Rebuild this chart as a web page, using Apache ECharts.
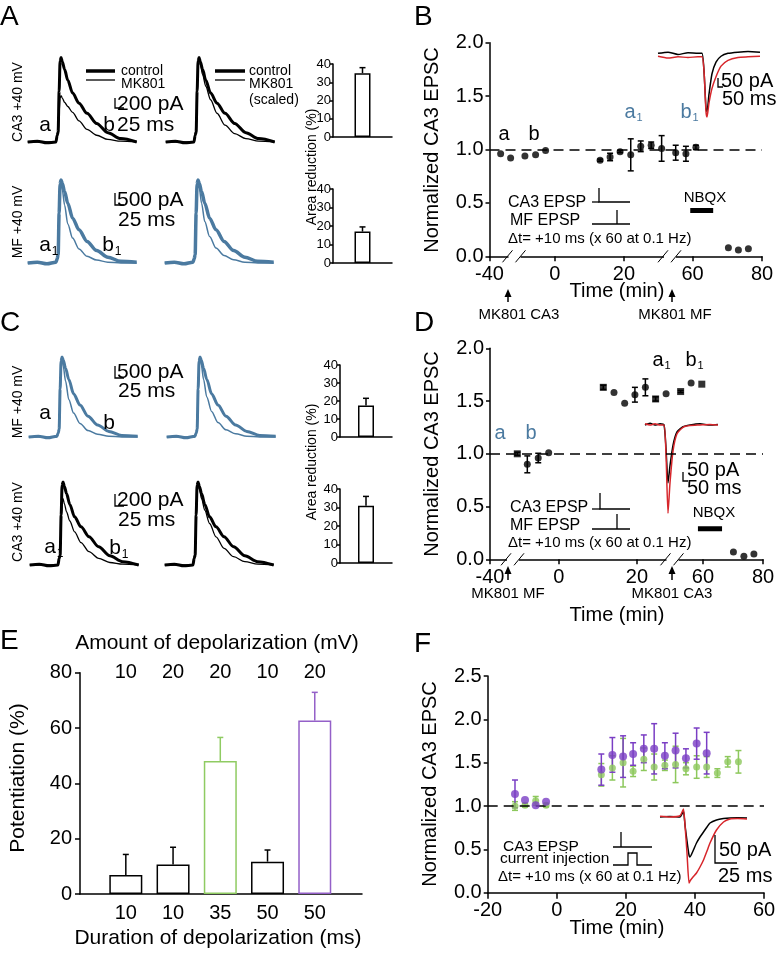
<!DOCTYPE html>
<html>
<head>
<meta charset="utf-8">
<script src="https://cdn.jsdelivr.net/npm/echarts@6/dist/echarts.min.js"></script>
<style>
  html, body { margin: 0; padding: 0; background: #fff; }
  #c { width: 780px; height: 953px; }
</style>
</head>
<body>
<div id="c"></div>
<script>
// ---- EPSC traces (panels A, C), normalized to control peak ----
const traceT = [0, 30, 60, 88, 92, 95, 98, 101, 104, 108, 115, 125, 140, 160, 185, 215, 250, 290, 340]
const ca3Ctrl = [0, 0.01, -0.01, 0, 0.08, 0.12, 0.6, 0.96, 1.0, 0.95, 0.86, 0.73, 0.58, 0.46, 0.34, 0.22, 0.11, 0.04, 0]
const ca3Mk = [0, 0, 0, 0, 0.06, 0.1, 0.35, 0.52, 0.55, 0.52, 0.47, 0.42, 0.35, 0.25, 0.15, 0.08, 0.03, 0.01, 0]
const ca3MkScaled = [0, 0, 0, 0, 0.1, 0.15, 0.64, 0.95, 1.0, 0.92, 0.8, 0.66, 0.5, 0.34, 0.2, 0.1, 0.04, 0.01, 0]
const ca3MkC = [0, 0, 0, 0, 0.08, 0.12, 0.5, 0.76, 0.8, 0.74, 0.64, 0.53, 0.4, 0.27, 0.16, 0.08, 0.03, 0.01, 0]
const mfCtrl = [0, 0.01, -0.01, 0.01, 0.05, 0.1, 0.6, 0.95, 1.0, 0.96, 0.86, 0.72, 0.54, 0.4, 0.26, 0.15, 0.07, 0.02, 0.01]
const mfMk = [0, 0, 0, 0, 0.04, 0.08, 0.55, 0.9, 0.97, 0.88, 0.7, 0.47, 0.3, 0.17, 0.08, 0.035, 0.01, 0, 0]
const mfMkScaled = [0, 0, 0, 0, 0.04, 0.08, 0.57, 0.93, 1.0, 0.9, 0.72, 0.5, 0.32, 0.18, 0.09, 0.04, 0.01, 0, 0]

// ---- area reduction bars (%) ----
const aBarVals = [35, 17]
const aBarErr = [3, 2.5]
const cBarVals = [17.5, 31]
const cBarErr = [4, 5]

// ---- panel B ----
const bTickPos = [-40, -11.2, 19.2, 49.4, 80]
const bTickText = ['-40', '0', '20', '60', '80']
const bX = [-35.1, -30.7, -24.4, -19.7, -15.3, 8.7, 13.1, 17.5, 22.2, 26.6, 31.2, 35.8, 42.0, 46.5, 50.9, 65.2, 69.6, 74.0]
const bY = [0.96, 0.92, 0.94, 0.95, 0.99, 0.90, 0.93, 0.98, 0.95, 1.03, 1.04, 1.01, 0.97, 0.96, 1.02, 0.08, 0.06, 0.07]
const bErr = [0, 0, 0, 0, 0, 0.01, 0.035, 0.01, 0.15, 0.05, 0.03, 0.12, 0.07, 0.07, 0.02, 0, 0, 0]
const bNbqx = [48.4, 58.5]
const bInsetT = [0, 20, 40, 60, 80, 88, 92, 96, 98, 102, 108, 116, 126, 140, 160, 180, 204]
const bInsetBlack = [0, 0.02, -0.02, 0.01, 0, 0, -0.3, -0.95, -1.0, -0.7, -0.35, -0.15, -0.05, 0, 0.02, 0.03, 0.02]
const bInsetRed = [-0.05, -0.08, -0.06, -0.07, -0.06, -0.06, -0.3, -1.0, -1.09, -0.85, -0.6, -0.4, -0.22, -0.12, -0.07, -0.06, -0.05]

// ---- panel D ----
const dTickPos = [-40, -9.7, 24.6, 53.6, 80]
const dTickText = ['-40', '0', '20', '60', '80']
const dX = [-28.0, -23.6, -18.8, -14.2, 9.8, 14.5, 19.2, 23.7, 28.3, 32.8, 37.4, 43.8, 48.4, 53.1, 67.0, 71.6, 76.0]
const dY = [1.0, 0.90, 0.96, 1.01, 1.63, 1.58, 1.48, 1.56, 1.63, 1.52, 1.57, 1.59, 1.67, 1.66, 0.07, 0.03, 0.05]
const dErr = [0.015, 0.08, 0.045, 0, 0.02, 0, 0, 0.07, 0.08, 0.02, 0, 0.01, 0, 0, 0, 0, 0]
const dMarker = ['rect', 'circle', 'circle', 'circle', 'rect', 'circle', 'circle', 'circle', 'circle', 'rect', 'circle', 'rect', 'circle', 'rect', 'circle', 'circle', 'circle']
const dNbqx = [51.4, 62]
const dInsetT = [0, 10, 20, 30, 38, 42, 46, 50, 56, 64, 76, 90, 110, 130, 146]
const dInsetBlack = [0, 0.03, 0, 0.02, 0, -0.4, -1.0, -0.7, -0.35, -0.12, -0.03, 0, 0.02, 0, 0.01]
const dInsetRed = [0.02, 0, 0.02, 0, 0, -0.5, -1.52, -1.0, -0.45, -0.15, -0.04, -0.01, 0, 0.01, 0]

// ---- panel E ----
const eSlot = [1, 2, 3, 4, 5]
const eAmp = ['10', '20', '20', '10', '20']
const eDur = ['10', '10', '35', '50', '50']
const eVals = [6.9, 10.7, 48.1, 11.7, 62.7]
const eErr = [7.4, 6.2, 8.5, 4.2, 10.2]

// ---- panel F ----
const fX = [-12.1, -9.2, -6.1, -3.1, 12.9, 16.1, 19.2, 22.1, 25.2, 28.2, 31.3, 34.4, 37.4, 40.5, 43.4]
const fPurple = [1.14, 1.07, 1.01, 1.05, 1.42, 1.59, 1.57, 1.6, 1.66, 1.66, 1.58, 1.64, 1.55, 1.72, 1.61]
const fPurpleErr = [0.16, 0, 0, 0, 0.18, 0.2, 0.24, 0.13, 0.16, 0.29, 0.15, 0.2, 0.11, 0.18, 0.24]
const fGreenX = [-12.1, -9.2, -6.1, -3.1, 12.9, 16.1, 19.2, 22.1, 25.2, 28.2, 31.3, 34.4, 37.4, 40.5, 43.4, 46.5, 49.5, 52.6]
const fGreen = [1.0, 1.01, 1.06, 1.01, 1.36, 1.44, 1.5, 1.4, 1.54, 1.45, 1.47, 1.48, 1.43, 1.45, 1.45, 1.38, 1.51, 1.51]
const fGreenErr = [0.05, 0.02, 0.05, 0.02, 0.13, 0.14, 0.28, 0.06, 0.13, 0.15, 0.06, 0.21, 0.07, 0.13, 0.12, 0.05, 0.06, 0.13]
const fInsetT = [0, 20, 40, 45, 47, 50, 54, 58, 60, 66, 73, 80, 87, 94, 100, 113, 127, 140, 155, 174]
const fInsetBlack = [0, 0.01, 0, 0.1, 0.15, -0.2, -0.6, -0.95, -1.0, -0.85, -0.65, -0.5, -0.375, -0.25, -0.15, -0.075, -0.04, -0.025, -0.02, -0.025]
const fInsetRed = [0.02, 0, 0.03, 0.15, 0.2, -0.2, -0.9, -1.65, -1.6, -1.5, -1.4, -1.25, -1.075, -0.85, -0.65, -0.325, -0.125, -0.05, -0.04, -0.05]

const FONT = '"Liberation Sans", Arial, sans-serif'
const BLUE = '#4b7aa0'
const RED = '#d7262b'
const PURPLE = '#7a3ec4'
const GREEN = '#8dc85c'
const eColors = ['#000', '#000', '#8fcb62', '#000', '#9460c8']

const grids = []
const xAxes = []
const yAxes = []
const series = []
const graphics = []

const axLine = { show: true, onZero: false, lineStyle: { color: '#000', width: 1.5 } }
const tick = (len) => ({ show: true, length: len, lineStyle: { color: '#000', width: 1.5 } })

// returns { g, x, y } indices for grid and its axes
function addGrid(rect, xa, ya) {
  const g = grids.length
  grids.push(Object.assign({ show: false, containLabel: false }, rect))
  const x = xAxes.length
  xAxes.push(Object.assign({ gridIndex: g, splitLine: { show: false } }, xa))
  const y = yAxes.length
  yAxes.push(Object.assign({ gridIndex: g, splitLine: { show: false } }, ya))
  return { g, x, y }
}

function on(ax, s) {
  return Object.assign({ xAxisIndex: ax.x, yAxisIndex: ax.y }, s)
}

function pairs(xs, ys) {
  return xs.map((x, k) => [x, ys[k]])
}

function traceGrid(left, top, h, lines) {
  const ax = addGrid({ left, top, width: 109, height: h },
    { type: 'value', show: false, min: 0, max: 340 },
    { type: 'value', show: false, min: 0, max: 1 })
  lines.forEach(l => {
    series.push(on(ax, {
      type: 'line', data: pairs(traceT, l[0]),
      symbol: 'none', clip: false, smooth: 0.3, smoothMonotone: 'x',
      lineStyle: { color: l[1], width: l[2] }
    }))
  })
}

function insetGrid(rect, tmax, ymin, ymax, t, black, red) {
  const ax = addGrid(rect,
    { type: 'value', show: false, min: 0, max: tmax },
    { type: 'value', show: false, min: ymin, max: ymax })
  series.push(on(ax, { type: 'line', data: pairs(t, black), symbol: 'none', clip: false,
    smooth: 0.2, lineStyle: { color: '#000', width: 1.5 } }))
  series.push(on(ax, { type: 'line', data: pairs(t, red), symbol: 'none', clip: false,
    smooth: 0.2, lineStyle: { color: RED, width: 1.5 } }))
}

// error bars drawn through the axes
function errSeries(ax, xs, ys, es, color, cap, up) {
  return on(ax, {
    type: 'custom', silent: true, z: 3,
    data: xs.map((x, i) => [x, ys[i], es[i]]),
    renderItem: (p, api) => {
      const x = api.value(0), y = api.value(1), e = api.value(2)
      if (!e) return { type: 'group', children: [] }
      const c = Array.isArray(color) ? color[p.dataIndex] : color
      const hi = api.coord([x, y + e])
      const lo = api.coord([x, up ? y : y - e])
      const st = { stroke: c, lineWidth: 1.5 }
      const kids = [
        { type: 'line', shape: { x1: hi[0], y1: hi[1], x2: lo[0], y2: lo[1] }, style: st },
        { type: 'line', shape: { x1: hi[0] - cap, y1: hi[1], x2: hi[0] + cap, y2: hi[1] }, style: st }
      ]
      if (!up) kids.push({ type: 'line', shape: { x1: lo[0] - cap, y1: lo[1], x2: lo[0] + cap, y2: lo[1] }, style: st })
      return { type: 'group', children: kids }
    }
  })
}

const dashed = {
  silent: true, symbol: ['none', 'none'], label: { show: false },
  lineStyle: { color: '#000', width: 1.5, type: [10, 6] },
  data: [{ yAxis: 1 }]
}

function smallBar(rect, val, err) {
  const ax = addGrid(rect,
    { type: 'category', data: [''], axisLine: axLine, axisTick: { show: false }, axisLabel: { show: false } },
    { type: 'value', min: 0, max: 40, interval: 10, axisLine: axLine, axisTick: tick(3),
      axisLabel: { fontSize: 13, fontFamily: FONT, color: '#000', margin: 2 } })
  series.push(on(ax, { type: 'bar', data: [val], barWidth: 16,
    itemStyle: { color: '#fff', borderColor: '#000', borderWidth: 1.5 } }))
  series.push(errSeries(ax, [0], [val], [err], '#000', 3, true))
}

function mainY(max) {
  return { type: 'value', min: 0, max, interval: 0.5, axisLine: axLine, axisTick: tick(4),
    axisLabel: { formatter: v => v.toFixed(1), fontSize: 20, fontFamily: FONT, color: '#000', margin: 6 } }
}

function brokenX(pos, text) {
  return { type: 'value', min: -40, max: 80, axisLine: axLine,
    axisTick: Object.assign(tick(5), { customValues: pos }),
    axisLabel: { customValues: pos, formatter: v => text[pos.indexOf(v)], fontSize: 20, fontFamily: FONT, color: '#000', margin: 8 } }
}

// ---- graphic helpers ----
function txt(x, y, s, size, opt) {
  opt = opt || {}
  const al = opt.align || 'center'
  graphics.push({ type: 'text', x, y, rotation: opt.rot || 0, z: 100, silent: true,
    style: { text: s, font: size + 'px ' + FONT, fill: opt.color || '#000',
      align: al, verticalAlign: 'middle', textAlign: al, textVerticalAlign: 'middle' } })
}
function sub(x, y, a, n, size, color) {
  txt(x, y, a, size, { color })
  txt(x + size * 0.32, y + size * 0.3, n, Math.round(size * 0.55), { color, align: 'left' })
}
function poly(points, w, color) {
  graphics.push({ type: 'polyline', z: 100, silent: true, shape: { points },
    style: { stroke: color || '#000', lineWidth: w || 1.5, fill: null } })
}
function arrowUp(x, yTop, yBot) {
  poly([[x, yBot], [x, yTop + 5]], 1.5)
  graphics.push({ type: 'polygon', z: 100, silent: true,
    shape: { points: [[x, yTop], [x - 3.5, yTop + 8], [x + 3.5, yTop + 8]] }, style: { fill: '#000' } })
}
function axisBreak(cx, y) {
  graphics.push({ type: 'rect', z: 99, silent: true, shape: { x: cx - 6, y: y - 2.5, width: 12, height: 5 }, style: { fill: '#fff' } })
  poly([[cx - 12, y + 6], [cx - 2, y - 6]], 1)
  poly([[cx + 1, y + 6], [cx + 11, y - 6]], 1)
}
function scaleL(x, yTop, yBot, xEnd) {
  poly([[x, yTop], [x, yBot], [xEnd, yBot]], 1.3)
}

// ================= Panel A =================
traceGrid(27.7, 57.5, 84.5, [[ca3Mk, '#000', 1.3], [ca3Ctrl, '#000', 3]])
traceGrid(165.7, 57.5, 84.5, [[ca3MkScaled, '#000', 1.3], [ca3Ctrl, '#000', 3]])
traceGrid(27.7, 180, 83, [[mfMk, BLUE, 1.5], [mfCtrl, BLUE, 3.5]])
traceGrid(164.7, 180, 83, [[mfMkScaled, BLUE, 1.5], [mfCtrl, BLUE, 3.5]])
smallBar({ left: 333, top: 64, width: 59, height: 73 }, aBarVals[0], aBarErr[0])
smallBar({ left: 333, top: 189, width: 59, height: 74 }, aBarVals[1], aBarErr[1])

txt(0, 17, 'A', 28, { align: 'left' })
txt(18, 102, 'CA3 +40 mV', 14, { rot: Math.PI / 2 })
txt(18, 222, 'MF +40 mV', 14, { rot: Math.PI / 2 })
poly([[86, 71], [115, 71]], 3.5)
poly([[86, 80], [115, 80]], 1.3)
txt(121, 71, 'control', 14, { align: 'left' })
txt(121, 84, 'MK801', 14, { align: 'left' })
poly([[215, 71], [245, 71]], 3.5)
poly([[215, 80], [245, 80]], 1.3)
txt(249, 71, 'control', 14, { align: 'left' })
txt(249, 84, 'MK801', 14, { align: 'left' })
txt(249, 100, '(scaled)', 14, { align: 'left' })
scaleL(115, 98, 108, 124)
txt(117, 104, '200 pA', 21, { align: 'left' })
txt(117, 125, '25 ms', 21, { align: 'left' })
txt(45, 125, 'a', 21)
txt(109, 125, 'b', 21)
scaleL(115, 193, 205, 124)
txt(117, 200, '500 pA', 21, { align: 'left' })
txt(118, 220, '25 ms', 21, { align: 'left' })
sub(45, 245, 'a', '1', 21)
sub(108, 245, 'b', '1', 21)
txt(312, 167, 'Area reduction (%)', 14, { rot: Math.PI / 2 })

// ================= Panel C =================
traceGrid(28.7, 357, 80, [[mfMk, BLUE, 1.5], [mfCtrl, BLUE, 3]])
traceGrid(166.7, 357, 80, [[mfMkScaled, BLUE, 1.5], [mfCtrl, BLUE, 3]])
traceGrid(29.7, 482, 83, [[ca3MkC, '#000', 1.3], [ca3Ctrl, '#000', 3]])
traceGrid(164.7, 482, 83, [[ca3MkScaled, '#000', 1.3], [ca3Ctrl, '#000', 3]])
smallBar({ left: 340, top: 365, width: 52, height: 72 }, cBarVals[0], cBarErr[0])
smallBar({ left: 340, top: 489, width: 52, height: 74 }, cBarVals[1], cBarErr[1])

txt(0, 323, 'C', 28, { align: 'left' })
txt(18, 402, 'MF +40 mV', 14, { rot: Math.PI / 2 })
txt(18, 522, 'CA3 +40 mV', 14, { rot: Math.PI / 2 })
txt(45, 413, 'a', 21)
txt(109, 423, 'b', 21)
scaleL(115, 366, 378, 124)
txt(117, 372, '500 pA', 21, { align: 'left' })
txt(118, 391, '25 ms', 21, { align: 'left' })
sub(50, 547, 'a', '1', 21)
sub(115, 548, 'b', '1', 21)
scaleL(115, 494, 506, 124)
txt(117, 500, '200 pA', 21, { align: 'left' })
txt(118, 520, '25 ms', 21, { align: 'left' })
txt(312, 462, 'Area reduction (%)', 14, { rot: Math.PI / 2 })

// ================= Panel B =================
const axB = addGrid({ left: 489.5, top: 42.7, width: 272.5, height: 213.6 }, brokenX(bTickPos, bTickText), mainY(2.0))
series.push(on(axB, { type: 'scatter', data: pairs(bX, bY), symbolSize: 7,
  itemStyle: { color: '#000' }, z: 4, markLine: dashed }))
series.push(errSeries(axB, bX, bY, bErr, '#000', 3))
series.push(on(axB, { type: 'line', data: bNbqx.map(x => [x, 0.43]), symbol: 'none',
  lineStyle: { color: '#000', width: 5 } }))
insetGrid({ left: 658, top: 47.5, width: 102, height: 70 }, 204, -1.1, 0.1, bInsetT, bInsetBlack, bInsetRed)

txt(414, 17, 'B', 28, { align: 'left' })
txt(432, 150, 'Normalized CA3 EPSC', 20, { rot: Math.PI / 2 })
txt(617, 291, 'Time (min)', 20)
arrowUp(508, 289, 302)
arrowUp(672, 289, 302)
txt(519, 315, 'MK801 CA3', 15)
txt(675, 315, 'MK801 MF', 15)
axisBreak(514.5, 256.3)
axisBreak(670, 256.3)
txt(504, 134, 'a', 20)
txt(534, 134, 'b', 20)
sub(630, 112, 'a', '1', 20, BLUE)
sub(686, 112, 'b', '1', 20, BLUE)
txt(705, 198, 'NBQX', 15)
txt(508, 203, 'CA3 EPSP', 16, { align: 'left' })
poly([[599, 188], [599, 202], [630, 202]], 1.3)
poly([[592, 202], [599, 202]], 1.3)
txt(510, 221, 'MF EPSP', 16, { align: 'left' })
poly([[592, 224], [630, 224]], 1.3)
poly([[617, 210], [617, 224]], 1.3)
txt(508, 239, 'Δt= +10 ms (x 60 at 0.1 Hz)', 15, { align: 'left' })
scaleL(718, 78, 87, 723)
txt(721, 81, '50 pA', 20, { align: 'left' })
txt(722, 99, '50 ms', 20, { align: 'left' })

// ================= Panel D =================
const axD = addGrid({ left: 490, top: 348.3, width: 273, height: 211 }, brokenX(dTickPos, dTickText), mainY(2.0))
series.push(on(axD, { type: 'scatter',
  data: dX.map((x, i) => ({ value: [x, dY[i]], symbol: dMarker[i] })), symbolSize: 7,
  itemStyle: { color: '#000' }, z: 4, markLine: dashed }))
series.push(errSeries(axD, dX, dY, dErr, '#000', 3))
series.push(on(axD, { type: 'line', data: dNbqx.map(x => [x, 0.29]), symbol: 'none',
  lineStyle: { color: '#000', width: 5 } }))
insetGrid({ left: 645, top: 419.2, width: 73, height: 98.6 }, 146, -1.6, 0.1, dInsetT, dInsetBlack, dInsetRed)

txt(414, 323, 'D', 28, { align: 'left' })
txt(432, 454, 'Normalized CA3 EPSC', 20, { rot: Math.PI / 2 })
txt(617, 615, 'Time (min)', 20)
arrowUp(508, 566, 580)
arrowUp(672, 566, 580)
txt(508, 594, 'MK801 MF', 15)
txt(672, 594, 'MK801 CA3', 15)
axisBreak(513, 559.3)
axisBreak(672.5, 559.3)
txt(500, 433, 'a', 20, { color: BLUE })
txt(531, 433, 'b', 20, { color: BLUE })
sub(658, 360, 'a', '1', 20)
sub(691, 360, 'b', '1', 20)
txt(714, 513, 'NBQX', 15)
txt(510, 508, 'CA3 EPSP', 16, { align: 'left' })
poly([[600, 493], [600, 509], [630, 509]], 1.3)
poly([[592, 509], [600, 509]], 1.3)
txt(510, 526, 'MF EPSP', 16, { align: 'left' })
poly([[592, 529], [630, 529]], 1.3)
poly([[617, 514], [617, 529]], 1.3)
txt(508, 543, 'Δt= +10 ms (x 60 at 0.1 Hz)', 15, { align: 'left' })
scaleL(683, 472, 481, 688)
txt(687, 470, '50 pA', 20, { align: 'left' })
txt(687, 488, '50 ms', 20, { align: 'left' })

// ================= Panel E =================
const axE = addGrid({ left: 80, top: 672.7, width: 282, height: 221.3 },
  { type: 'value', min: 0.03, max: 6, axisLine: axLine, axisTick: { show: false },
    axisLabel: { customValues: eSlot, formatter: v => eDur[eSlot.indexOf(v)], fontSize: 20, fontFamily: FONT, color: '#000', margin: 9 } },
  { type: 'value', min: 0, max: 80, interval: 20, axisLine: axLine, axisTick: tick(5),
    axisLabel: { fontSize: 20, fontFamily: FONT, color: '#000', margin: 8 } })
series.push(on(axE, { type: 'bar', barWidth: 33,
  data: eSlot.map((x, i) => ({ value: [x, eVals[i]], itemStyle: { borderColor: eColors[i] } })),
  itemStyle: { color: '#fff', borderWidth: 1.5 } }))
series.push(errSeries(axE, eSlot, eVals, eErr, eColors, 3, true))

txt(0, 641, 'E', 28, { align: 'left' })
txt(217, 643, 'Amount of depolarization (mV)', 21)
txt(218, 938, 'Duration of depolarization (ms)', 21)
txt(18, 778, 'Potentiation (%)', 21, { rot: Math.PI / 2 })

// ================= Panel F =================
const axF = addGrid({ left: 487.7, top: 676, width: 276.3, height: 216.7 },
  { type: 'value', min: -20, max: 60, interval: 20, axisLine: axLine, axisTick: tick(6),
    axisLabel: { fontSize: 20, fontFamily: FONT, color: '#000', margin: 8 } },
  mainY(2.5))
series.push(on(axF, { type: 'scatter', data: pairs(fGreenX, fGreen), symbolSize: 7,
  itemStyle: { color: GREEN }, z: 4, markLine: dashed }))
series.push(errSeries(axF, fGreenX, fGreen, fGreenErr, GREEN, 3))
series.push(errSeries(axF, fX, fPurple, fPurpleErr, PURPLE, 3))
series.push(on(axF, { type: 'scatter', data: pairs(fX, fPurple), symbolSize: 8,
  itemStyle: { color: PURPLE }, z: 5 }))
insetGrid({ left: 660, top: 807, width: 87, height: 80 }, 174, -1.75, 0.25, fInsetT, fInsetBlack, fInsetRed)

txt(414, 644, 'F', 28, { align: 'left' })
txt(430, 784, 'Normalized CA3 EPSC', 20, { rot: Math.PI / 2 })
txt(617, 928, 'Time (min)', 20)
txt(503, 847, 'CA3 EPSP', 15.5, { align: 'left' })
txt(500, 859, 'current injection', 15.5, { align: 'left' })
txt(498, 877, 'Δt= +10 ms (x 60 at 0.1 Hz)', 15, { align: 'left' })
poly([[621, 832], [621, 847]], 1.3)
poly([[613, 847], [652, 847]], 1.3)
poly([[613, 865], [628, 865], [628, 853], [637, 853], [637, 865], [652, 865]], 1.3)
scaleL(715, 835, 863, 737)
txt(719, 850, '50 pA', 20, { align: 'left' })
txt(718, 876, '25 ms', 20, { align: 'left' })

// top axis of E (amount of depolarization values), added last so indices stay aligned
xAxes.push({ gridIndex: axE.g, type: 'value', position: 'top', min: 0.03, max: 6, splitLine: { show: false },
  axisLine: { show: false }, axisTick: { show: false },
  axisLabel: { customValues: eSlot, formatter: v => eAmp[eSlot.indexOf(v)], fontSize: 20, fontFamily: FONT, color: '#000', margin: 0, verticalAlign: 'middle' } })

const chart = echarts.init(document.getElementById('c'), null, { renderer: 'canvas', width: 780, height: 953 })
chart.setOption({
  animation: false,
  backgroundColor: '#fff',
  grid: grids,
  xAxis: xAxes,
  yAxis: yAxes,
  series,
  graphic: { elements: graphics }
})
</script>
</body>
</html>
